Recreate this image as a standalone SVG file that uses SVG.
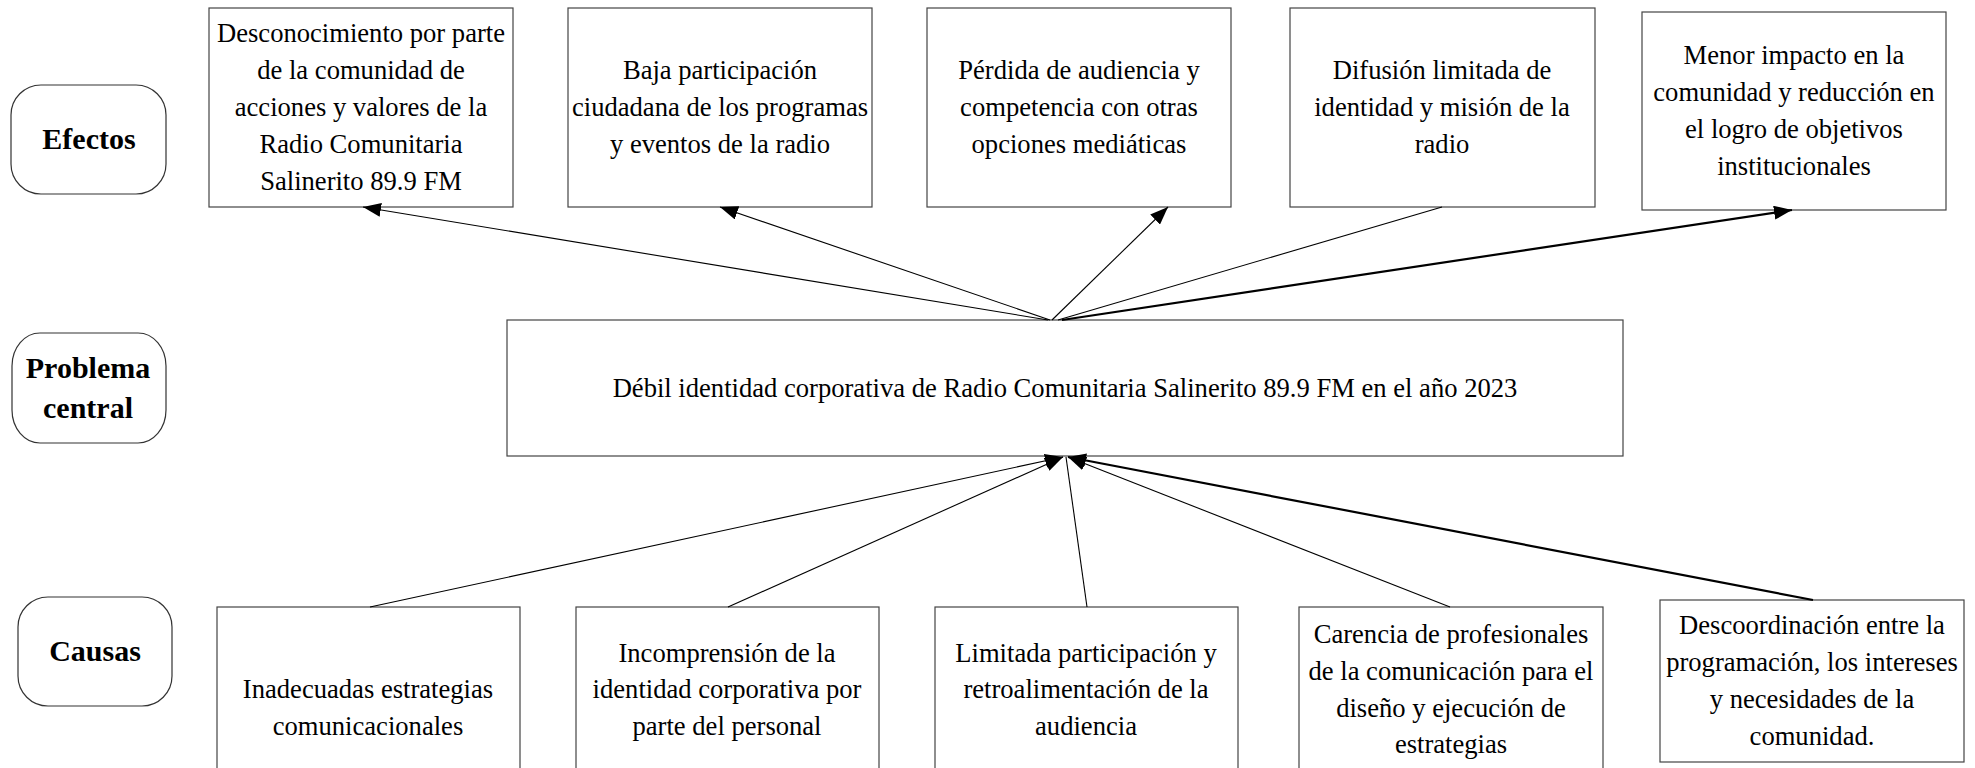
<svg xmlns="http://www.w3.org/2000/svg" width="1975" height="768" viewBox="0 0 1975 768">
<style>
.box{fill:#fff;stroke:#444;stroke-width:1.2}
.lbl{fill:#fff;stroke:#333;stroke-width:1.2}
.t{font-family:"Liberation Serif","Times New Roman",serif;font-size:26.6px;fill:#000;text-anchor:middle}
.b{font-family:"Liberation Serif","Times New Roman",serif;font-size:30px;font-weight:bold;fill:#000;text-anchor:middle}
.c{stroke:#000;stroke-width:1.1;fill:none}
.k{stroke:#000;stroke-width:2.2;fill:none}
</style>
<defs>
<marker id="ah" markerUnits="userSpaceOnUse" markerWidth="18" markerHeight="14" refX="18" refY="7" orient="auto" viewBox="0 0 18 14">
<path d="M0,0 L18,7 L0,14 z" fill="#000"/>
</marker>
</defs>
<rect width="1975" height="768" fill="#fff"/>

<g id="label-efectos"><rect class="lbl" x="11" y="85" width="155" height="109" rx="30" ry="30"/><text class="b" x="89" y="149">Efectos</text></g>
<g id="label-problema"><rect class="lbl" x="12" y="333" width="154" height="110" rx="28" ry="33"/><text class="b" x="88" y="378">Problema</text><text class="b" x="88" y="418">central</text></g>
<g id="label-causas"><rect class="lbl" x="18" y="597" width="154" height="109" rx="30" ry="30"/><text class="b" x="95" y="661">Causas</text></g>

<g id="efecto1"><rect class="box" x="209" y="8" width="304" height="199"/>
<text class="t" x="361" y="42">Desconocimiento por parte</text>
<text class="t" x="361" y="79">de la comunidad de</text>
<text class="t" x="361" y="116">acciones y valores de la</text>
<text class="t" x="361" y="153">Radio Comunitaria</text>
<text class="t" x="361" y="190">Salinerito 89.9 FM</text></g>

<g id="efecto2"><rect class="box" x="568" y="8" width="304" height="199"/>
<text class="t" x="720" y="79">Baja participación</text>
<text class="t" x="720" y="116">ciudadana de los programas</text>
<text class="t" x="720" y="153">y eventos de la radio</text></g>

<g id="efecto3"><rect class="box" x="927" y="8" width="304" height="199"/>
<text class="t" x="1079" y="79">Pérdida de audiencia y</text>
<text class="t" x="1079" y="116">competencia con otras</text>
<text class="t" x="1079" y="153">opciones mediáticas</text></g>

<g id="efecto4"><rect class="box" x="1290" y="8" width="305" height="199"/>
<text class="t" x="1442" y="79">Difusión limitada de</text>
<text class="t" x="1442" y="116">identidad y misión de la</text>
<text class="t" x="1442" y="153">radio</text></g>

<g id="efecto5"><rect class="box" x="1642" y="12" width="304" height="198"/>
<text class="t" x="1794" y="64">Menor impacto en la</text>
<text class="t" x="1794" y="101">comunidad y reducción en</text>
<text class="t" x="1794" y="138">el logro de objetivos</text>
<text class="t" x="1794" y="175">institucionales</text></g>

<g id="problema"><rect class="box" x="507" y="320" width="1116" height="136"/>
<text class="t" x="1065" y="397">Débil identidad corporativa de Radio Comunitaria Salinerito 89.9 FM en el año 2023</text></g>

<g id="causa1"><rect class="box" x="217" y="607" width="303" height="180"/>
<text class="t" x="368" y="698">Inadecuadas estrategias</text>
<text class="t" x="368" y="735">comunicacionales</text></g>

<g id="causa2"><rect class="box" x="576" y="607" width="303" height="180"/>
<text class="t" x="727" y="662">Incomprensión de la</text>
<text class="t" x="727" y="698">identidad corporativa por</text>
<text class="t" x="727" y="735">parte del personal</text></g>

<g id="causa3"><rect class="box" x="935" y="607" width="303" height="180"/>
<text class="t" x="1086" y="662">Limitada participación y</text>
<text class="t" x="1086" y="698">retroalimentación de la</text>
<text class="t" x="1086" y="735">audiencia</text></g>

<g id="causa4"><rect class="box" x="1299" y="607" width="304" height="180"/>
<text class="t" x="1451" y="643">Carencia de profesionales</text>
<text class="t" x="1451" y="680">de la comunicación para el</text>
<text class="t" x="1451" y="717">diseño y ejecución de</text>
<text class="t" x="1451" y="753">estrategias</text></g>

<g id="causa5"><rect class="box" x="1660" y="600" width="304" height="162"/>
<text class="t" x="1812" y="634">Descoordinación entre la</text>
<text class="t" x="1812" y="671">programación, los intereses</text>
<text class="t" x="1812" y="708">y necesidades de la</text>
<text class="t" x="1812" y="745">comunidad.</text></g>

<g id="connectors">
<line class="c" x1="1048" y1="320" x2="363" y2="207" marker-end="url(#ah)"/>
<line class="c" x1="1050" y1="320" x2="720" y2="207" marker-end="url(#ah)"/>
<line class="c" x1="1052" y1="320" x2="1168" y2="207" marker-end="url(#ah)"/>
<line class="c" x1="1058" y1="320" x2="1442" y2="207"/>
<line class="k" x1="1062" y1="320" x2="1792" y2="210" marker-end="url(#ah)"/>
<line class="c" x1="370" y1="607" x2="1063" y2="457" marker-end="url(#ah)"/>
<line class="c" x1="728" y1="607" x2="1063" y2="457" marker-end="url(#ah)"/>
<line class="c" x1="1087" y1="607" x2="1066" y2="457"/>
<line class="c" x1="1450" y1="607" x2="1068" y2="457" marker-end="url(#ah)"/>
<line class="k" x1="1813" y1="600" x2="1068" y2="457" marker-end="url(#ah)"/>
</g>
</svg>
